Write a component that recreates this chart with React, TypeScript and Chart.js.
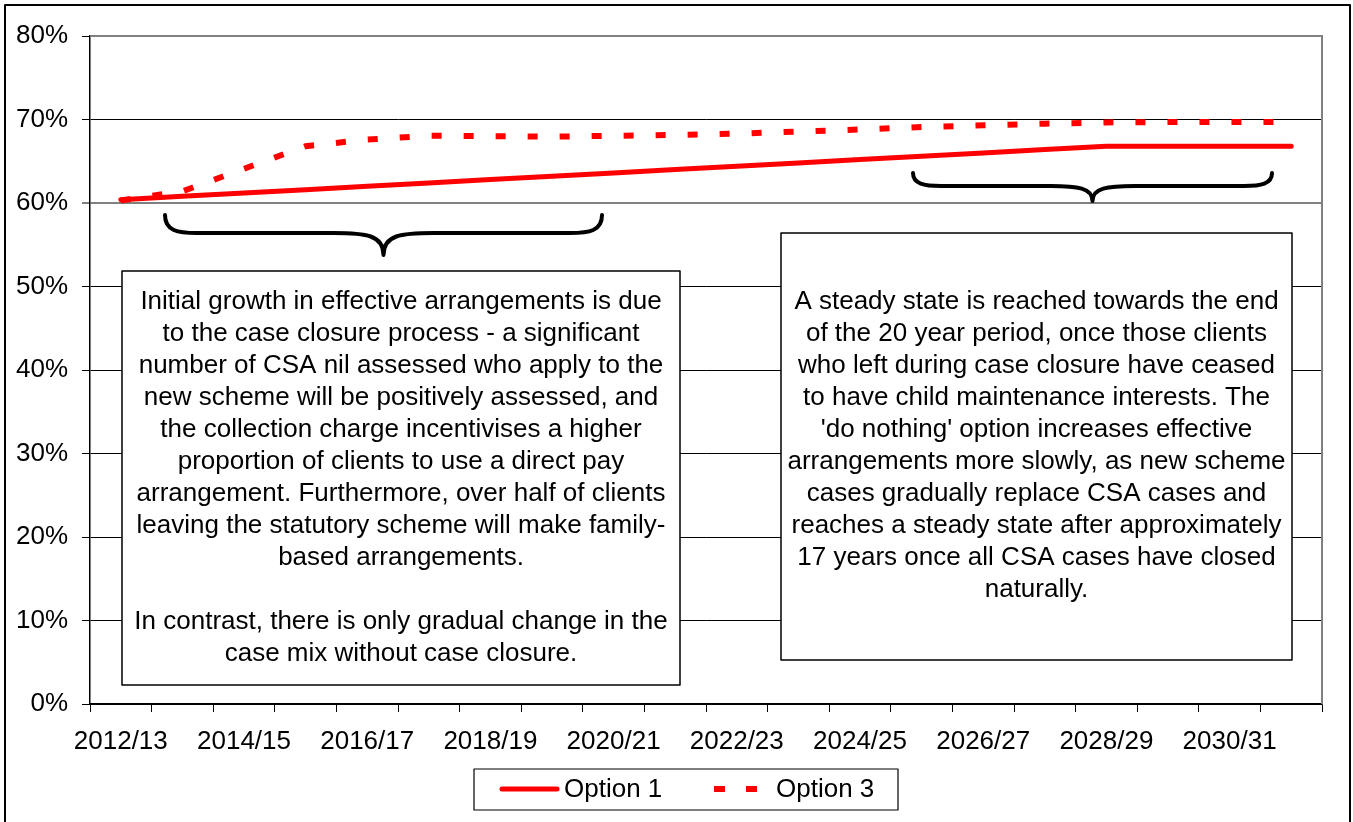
import React, { useEffect, useRef } from "react";
import { Chart, registerables } from "chart.js";

Chart.register(...registerables);

const categories = [
  "2012/13", "2013/14", "2014/15", "2015/16", "2016/17", "2017/18", "2018/19",
  "2019/20", "2020/21", "2021/22", "2022/23", "2023/24", "2024/25", "2025/26",
  "2026/27", "2027/28", "2028/29", "2029/30", "2030/31", "2031/32",
];

const option1 = [
  60.4, 60.8, 61.2, 61.6, 62.0, 62.4, 62.8, 63.2, 63.6, 64.0,
  64.4, 64.8, 65.2, 65.6, 66.0, 66.4, 66.8, 66.8, 66.8, 66.8,
];

const option3 = [
  60.3, 61.4, 64.1, 66.8, 67.6, 68.05, 68.0, 67.95, 68.05, 68.15,
  68.3, 68.55, 68.8, 69.1, 69.3, 69.5, 69.65, 69.7, 69.7, 69.7,
];

const yTickValues = [0, 10, 20, 30, 40, 50, 60, 70, 80];

const seriesNames = ["Option 1", "Option 3"];

const leftNote = [
  "Initial growth in effective arrangements is due",
  "to the case closure process - a significant",
  "number of CSA nil assessed who apply to the",
  "new scheme will be positively assessed, and",
  "the collection charge incentivises a higher",
  "proportion of clients to use a direct pay",
  "arrangement. Furthermore, over half of clients",
  "leaving the statutory scheme will make family-",
  "based arrangements.",
  "",
  "In contrast, there is only gradual change in the",
  "case mix without case closure.",
];

const rightNote = [
  "A steady state is reached towards the end",
  "of the 20 year period, once those clients",
  "who left during case closure have ceased",
  "to have child maintenance interests. The",
  "'do nothing' option increases effective",
  "arrangements more slowly, as new scheme",
  "cases gradually replace CSA cases and",
  "reaches a steady state after approximately",
  "17 years once all CSA cases have closed",
  "naturally.",
];

const FONT_FAMILY = "'Liberation Sans', Arial, Helvetica, sans-serif";
const FONT_SIZE = 26;
const RED = "#FF0000";

function drawBrace(ctx: CanvasRenderingContext2D, x0: number, x1: number, yTop: number, yMid: number, yTip: number, rEnd: number, rMid: number) {
  const xc = (x0 + x1) / 2;
  ctx.beginPath();
  ctx.moveTo(x0, yTop);
  ctx.bezierCurveTo(x0, yMid - 2, x0 + rEnd * 0.4, yMid, x0 + rEnd, yMid);
  ctx.lineTo(xc - rMid, yMid);
  ctx.bezierCurveTo(xc - rMid * 0.35, yMid, xc, yMid + 2, xc, yTip);
  ctx.bezierCurveTo(xc, yMid + 2, xc + rMid * 0.35, yMid, xc + rMid, yMid);
  ctx.lineTo(x1 - rEnd, yMid);
  ctx.bezierCurveTo(x1 - rEnd * 0.4, yMid, x1, yMid - 2, x1, yTop);
  ctx.stroke();
}

function drawNote(ctx: CanvasRenderingContext2D, lines: string[], x0: number, y0: number, x1: number, y1: number, firstY: number, step: number) {
  ctx.fillStyle = "#ffffff";
  ctx.fillRect(x0, y0, x1 - x0, y1 - y0);
  ctx.strokeStyle = "#000000";
  ctx.lineWidth = 1.5;
  ctx.strokeRect(x0, y0, x1 - x0, y1 - y0);
  ctx.fillStyle = "#000000";
  ctx.font = `${FONT_SIZE}px ${FONT_FAMILY}`;
  ctx.textAlign = "center";
  ctx.textBaseline = "middle";
  const cx = (x0 + x1) / 2;
  lines.forEach((line, i) => {
    if (line) ctx.fillText(line, cx, firstY + i * step);
  });
}

const decorPlugin = {
  id: "decor",
  afterDatasetsDraw(chart: any) {
    const ctx: CanvasRenderingContext2D = chart.ctx;
    const { left, right, top, bottom } = chart.chartArea;
    ctx.save();
    // plot area border (top/right grey)
    ctx.strokeStyle = "#808080";
    ctx.lineWidth = 2;
    ctx.beginPath();
    ctx.moveTo(left, top);
    ctx.lineTo(right, top);
    ctx.lineTo(right, bottom);
    ctx.stroke();

    // braces
    ctx.strokeStyle = "#000000";
    ctx.lineWidth = 4;
    ctx.lineCap = "round";
    ctx.lineJoin = "round";
    drawBrace(ctx, 165, 602, 215, 233, 255, 32, 50);
    drawBrace(ctx, 913, 1272, 173, 186, 201, 28, 42);

    // notes
    ctx.lineCap = "butt";
    drawNote(ctx, leftNote, 122, 271, 680, 685, 302, 32);
    drawNote(ctx, rightNote, 781, 233, 1292, 660, 302, 32);

    // legend
    ctx.fillStyle = "#ffffff";
    ctx.fillRect(474, 769, 424, 41);
    ctx.strokeStyle = "#000000";
    ctx.lineWidth = 1.2;
    ctx.strokeRect(474, 769, 424, 41);
    ctx.strokeStyle = RED;
    ctx.lineWidth = 5;
    ctx.lineCap = "round";
    ctx.beginPath();
    ctx.moveTo(502, 789);
    ctx.lineTo(557, 789);
    ctx.stroke();
    ctx.lineCap = "butt";
    ctx.lineWidth = 6;
    ctx.beginPath();
    ctx.moveTo(714, 789);
    ctx.lineTo(725, 789);
    ctx.moveTo(746, 789);
    ctx.lineTo(757, 789);
    ctx.stroke();
    ctx.fillStyle = "#000000";
    ctx.font = `${FONT_SIZE}px ${FONT_FAMILY}`;
    ctx.textAlign = "left";
    ctx.textBaseline = "middle";
    ctx.fillText(seriesNames[0], 564, 790);
    ctx.fillText(seriesNames[1], 776, 790);

    // outer border
    ctx.strokeStyle = "#000000";
    ctx.lineWidth = 2;
    ctx.strokeRect(5, 5, 1345, 900);
    ctx.restore();
  },
};

export default function App() {
  const canvasRef = useRef<HTMLCanvasElement | null>(null);

  useEffect(() => {
    document.body.style.margin = "0";
    const canvas = canvasRef.current;
    if (!canvas) return;
    const chart = new Chart(canvas, {
      type: "line",
      data: {
        labels: categories,
        datasets: [
          {
            label: seriesNames[0],
            data: option1,
            borderColor: RED,
            backgroundColor: RED,
            borderWidth: 5,
            pointRadius: 0,
            tension: 0,
            fill: false,
            borderCapStyle: "round",
            borderJoinStyle: "round",
          },
          {
            label: seriesNames[1],
            data: option3,
            borderColor: RED,
            backgroundColor: RED,
            borderWidth: 6,
            borderDash: [10, 22],
            pointRadius: 0,
            tension: 0,
            fill: false,
            borderCapStyle: "butt",
          },
        ],
      },
      options: {
        responsive: false,
        animation: false,
        devicePixelRatio: 1,
        layout: { padding: { top: 36, right: 31, left: 0, bottom: 0 } },
        plugins: {
          legend: { display: false },
          tooltip: { enabled: false },
        },
        font: { family: FONT_FAMILY, size: FONT_SIZE },
        scales: {
          x: {
            type: "category",
            offset: true,
            grid: {
              offset: true,
              drawOnChartArea: false,
              drawTicks: true,
              tickLength: 8,
              color: "#000000",
              tickColor: "#000000",
              lineWidth: 1,
            },
            border: { color: "#000000", width: 1.5 },
            ticks: {
              autoSkip: false,
              maxRotation: 0,
              minRotation: 0,
              padding: 14,
              color: "#000000",
              font: { family: FONT_FAMILY, size: FONT_SIZE },
              callback: (_v: any, idx: number) => (idx % 2 === 0 ? categories[idx] : ""),
            },
            afterFit: (scale: any) => {
              scale.height = 118;
            },
          },
          y: {
            min: yTickValues[0],
            max: yTickValues[yTickValues.length - 1],
            afterBuildTicks: (scale: any) => {
              scale.ticks = yTickValues.map((v) => ({ value: v }));
            },
            grid: {
              color: (c: any) => {
                const v = c.tick ? c.tick.value : null;
                if (v === 80) return "rgba(0,0,0,0)";
                if (v === 60) return "#808080";
                return "#000000";
              },
              lineWidth: (c: any) => (c.tick && c.tick.value === 60 ? 2 : 1),
              tickColor: "#000000",
              tickWidth: 1,
              tickLength: 8,
            },
            border: { color: "#000000", width: 1.5 },
            ticks: {
              padding: 14,
              color: "#000000",
              font: { family: FONT_FAMILY, size: FONT_SIZE },
              callback: (v: any) => `${v}%`,
            },
            afterFit: (scale: any) => {
              scale.width = 90;
            },
          },
        },
      },
      plugins: [decorPlugin],
    } as any);
    return () => chart.destroy();
  }, []);

  return (
    <div style={{ width: 1353, height: 822, position: "relative", overflow: "hidden" }}>
      <canvas ref={canvasRef} width={1353} height={822} style={{ display: "block" }} />
    </div>
  );
}
